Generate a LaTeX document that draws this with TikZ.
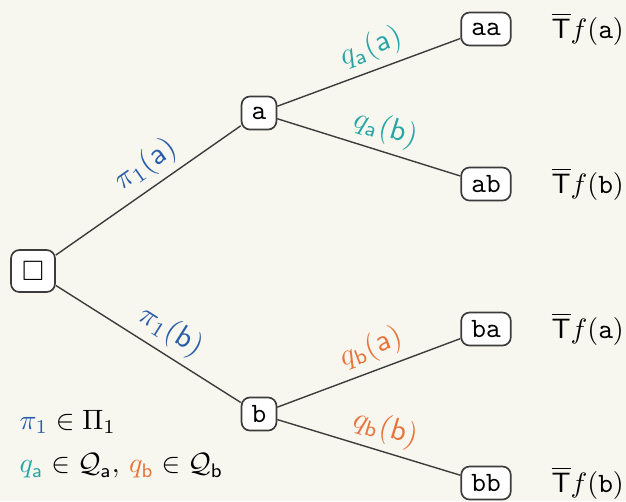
\documentclass[tikz,border=0pt]{standalone}
\usepackage{amsmath,amssymb}
\definecolor{bgc}{HTML}{F7F7EF}
\definecolor{piblue}{HTML}{2C5DA8}
\definecolor{qteal}{HTML}{27A5A5}
\definecolor{qorange}{HTML}{E8743B}
\definecolor{linec}{HTML}{3C3C3C}
\tikzset{
  st/.style={draw=linec, fill=white, line width=0.6pt, rounded corners=3pt, font=\ttfamily, minimum height=11.8pt, inner xsep=3.6pt, inner ysep=2pt},
  edge/.style={draw=linec, line width=0.5pt},
  lab/.style={pos=0.555, sloped, above, inner sep=2.2pt, scale=1.08},
}
\begin{document}
\begin{tikzpicture}[x=0.357pt, y=-0.357pt]
\fill[bgc] (0,0) rectangle (626,501);
\useasboundingbox (0,0) rectangle (626,501);
\node[st, minimum width=15.7pt, minimum height=15pt, inner sep=0pt] (r) at (33,271) {$\square$};
\node[st] (a) at (259,113) {a};
\node[st] (b) at (259,414) {b};
\node[st] (aa) at (486,29) {aa};
\node[st] (ab) at (486,184) {ab};
\node[st] (ba) at (486,329) {ba};
\node[st] (bb) at (486,483) {bb};
\path[edge] (r) -- node[lab, text=piblue] {$\pi_1(\mathsf{a})$} (a);
\path[edge] (r) -- node[lab, text=piblue] {$\pi_1(\mathsf{b})$} (b);
\path[edge] (a) -- node[lab, text=qteal] {$q_{\mathsf{a}}(\mathsf{a})$} (aa);
\path[edge] (a) -- node[lab, text=qteal] {$q_{\mathsf{a}}(\mathsf{b})$} (ab);
\path[edge] (b) -- node[lab, text=qorange] {$q_{\mathsf{b}}(\mathsf{a})$} (ba);
\path[edge] (b) -- node[lab, text=qorange] {$q_{\mathsf{b}}(\mathsf{b})$} (bb);
\node[anchor=west, inner sep=0pt] (ta) at (551,29) {$\overline{\mathsf{T}}f(\mathtt{a})$};
\node[anchor=west, inner sep=0pt] (tb) at (551,184) {$\overline{\mathsf{T}}f(\mathtt{b})$};
\node[anchor=west, inner sep=0pt] (tc) at (551,329) {$\overline{\mathsf{T}}f(\mathtt{a})$};
\node[anchor=west, inner sep=0pt] (td) at (551,483) {$\overline{\mathsf{T}}f(\mathtt{b})$};
\node[anchor=west, inner sep=0pt] (l1) at (19,422) {$\textcolor{piblue}{\pi_1}\in\Pi_1$};
\node[anchor=west, inner sep=0pt] (l2) at (19,466) {$\textcolor{qteal}{q_{\mathsf{a}}}\in\mathcal{Q}_{\mathsf{a}},\,\textcolor{qorange}{q_{\mathsf{b}}}\in\mathcal{Q}_{\mathsf{b}}$};
\end{tikzpicture}
\end{document}
